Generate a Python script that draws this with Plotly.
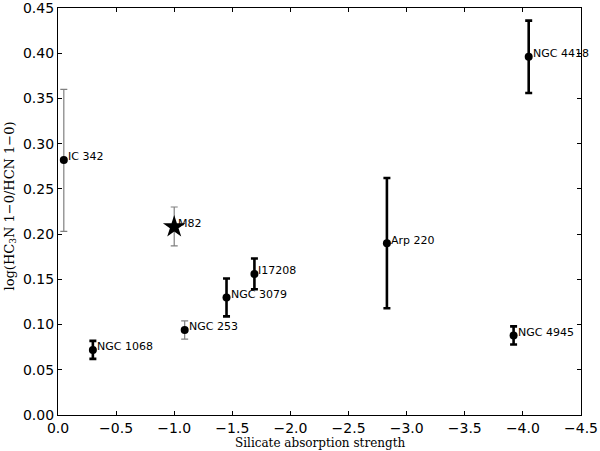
import plotly.graph_objects as go

# source names, silicate strength, log ratio, upper/lower error
names = ["IC 342", "M82", "NGC 253", "NGC 1068", "NGC 3079", "I17208",
         "Arp 220", "NGC 4418", "NGC 4945"]
sil = [-0.05, -1.00, -1.09, -0.30, -1.45, -1.69, -2.83, -4.05, -3.92]
ratio = [0.282, 0.208, 0.094, 0.072, 0.130, 0.156, 0.190, 0.396, 0.088]
err_up = [0.078, 0.022, 0.010, 0.010, 0.021, 0.017, 0.072, 0.040, 0.010]
err_dn = [0.079, 0.021, 0.010, 0.010, 0.021, 0.017, 0.072, 0.040, 0.010]

gray_idx = [0, 2]       # thin gray bars
star_idx = [1]          # M82, gray bar with star
black_idx = [3, 4, 5, 6, 7, 8]

fig = go.Figure()


def pick(lst, idx):
    return [lst[i] for i in idx]


for idx, sym, size, col, thick in [
    (gray_idx, "circle", 8, "#808080", 1.2),
    (star_idx, "star", 17, "#808080", 1.2),
    (black_idx, "circle", 8, "black", 2.6),
]:
    fig.add_trace(go.Scatter(
        x=pick(sil, idx), y=pick(ratio, idx), mode="markers",
        marker=dict(symbol=sym, size=size, color="black", line=dict(width=0)),
        error_y=dict(type="data", symmetric=False, array=pick(err_up, idx),
                     arrayminus=pick(err_dn, idx), color=col,
                     thickness=thick, width=3.5),
        showlegend=False, hoverinfo="skip"))

for n, xv, yv in zip(names, sil, ratio):
    fig.add_annotation(x=xv, y=yv, text=n, showarrow=False, xanchor="left",
                       yanchor="middle", xshift=2, yshift=3,
                       font=dict(family="DejaVu Sans", size=11, color="black"))

# axis titles as annotations so the margins stay fixed
fig.add_annotation(x=0.5, y=0, xref="paper", yref="paper", xanchor="center",
                   yanchor="top", yshift=-19, showarrow=False,
                   text="Silicate absorption strength",
                   font=dict(family="DejaVu Serif", size=12, color="black"))
fig.add_annotation(x=0, y=0.5, xref="paper", yref="paper", xanchor="center",
                   yanchor="middle", xshift=-48, yshift=5, textangle=-90, showarrow=False,
                   text="log(HC<sub>3</sub>N 1\u22120/HCN 1\u22120)",
                   font=dict(family="DejaVu Serif", size=13, color="black"))

axis_common = dict(showgrid=False, zeroline=False, showline=True,
                   linecolor="black", linewidth=1.2, mirror="ticks",
                   ticks="inside", ticklen=4, tickcolor="black", automargin=False,
                   ticklabeloverflow="allow",
                   tickfont=dict(family="DejaVu Sans", size=14, color="black"))

fig.update_xaxes(range=[0, -4.5], tickmode="array",
                 tickvals=[0, -0.5, -1, -1.5, -2, -2.5, -3, -3.5, -4, -4.5],
                 ticktext=["0.0", "\u22120.5", "\u22121.0", "\u22121.5", "\u22122.0",
                           "\u22122.5", "\u22123.0", "\u22123.5", "\u22124.0", "\u22124.5"],
                 **axis_common)
fig.update_yaxes(range=[0, 0.45], tickmode="array",
                 tickvals=[0, 0.05, 0.1, 0.15, 0.2, 0.25, 0.3, 0.35, 0.4, 0.45],
                 ticktext=["0.00", "0.05", "0.10", "0.15", "0.20", "0.25", "0.30",
                           "0.35", "0.40", "0.45"],
                 **axis_common)

fig.update_layout(width=600, height=451, plot_bgcolor="white", paper_bgcolor="white",
                  margin=dict(l=58, r=19, t=8, b=36))

# drop the page's default body margin so the 600x451 figure fills the window
fig.write_html("out.html", config={"displayModeBar": False},
               post_script="document.body.style.margin='0';")
